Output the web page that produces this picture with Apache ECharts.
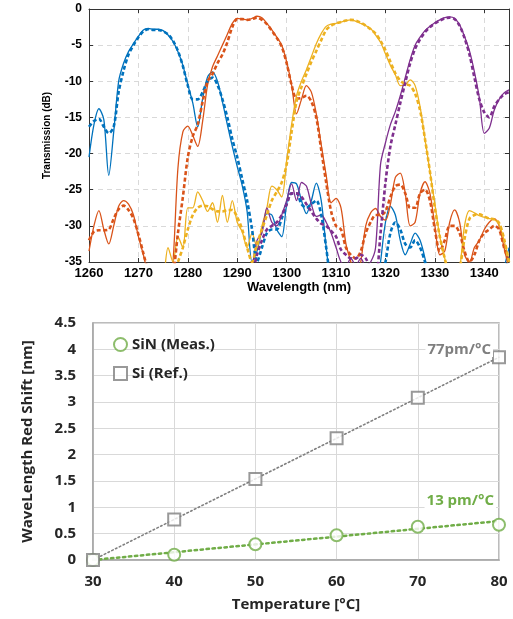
<!DOCTYPE html>
<html>
<head>
<meta charset="utf-8">
<script src="https://cdn.jsdelivr.net/npm/echarts@6/dist/echarts.min.js"></script>
<style>
  html, body { margin: 0; padding: 0; background: #fff; }
  #chart { width: 513px; height: 619px; }
</style>
</head>
<body>
<div id="chart"></div>
<script>
// ---- Transmission spectra (dB) sampled every 1 nm ----
const wavelengths = [
  1260, 1261, 1262, 1263, 1264, 1265, 1266, 1267, 1268, 1269,
  1270, 1271, 1272, 1273, 1274, 1275, 1276, 1277, 1278, 1279,
  1280, 1281, 1282, 1283, 1284, 1285, 1286, 1287, 1288, 1289,
  1290, 1291, 1292, 1293, 1294, 1295, 1296, 1297, 1298, 1299,
  1300, 1301, 1302, 1303, 1304, 1305, 1306, 1307, 1308, 1309,
  1310, 1311, 1312, 1313, 1314, 1315, 1316, 1317, 1318, 1319,
  1320, 1321, 1322, 1323, 1324, 1325, 1326, 1327, 1328, 1329,
  1330, 1331, 1332, 1333, 1334, 1335, 1336, 1337, 1338, 1339,
  1340, 1341, 1342, 1343, 1344, 1345
];

// Channel 1 (blue)
const ch1Measured = [
  -20.5, -16, -13.8, -15.3, -23, -17, -10, -7.5, -5.9, -4.8,
  -3.8, -2.9, -2.7, -2.8, -2.8, -3.0, -3.6, -4.5, -5.9, -7.8,
  -10.5, -13, -16.3, -12.4, -9.4, -8.7, -10, -12.8, -16, -19,
  -21.8, -24.4, -28, -35, -33.5, -30.5, -28.3, -28.5, -30.5, -31.5,
  -27, -24, -24.2, -26.5, -28.3, -26.5, -24.1, -26.5, -33, -38,
  -40, -40, -40, -40, -40, -40, -40, -40, -40, -35,
  -29.5, -27.3, -28.5, -32, -34, -32.5, -31, -32, -34.5, -38,
  -40, -40, -40, -40, -40, -40, -40, -40, -40, -40,
  -40, -40, -40, -40, -36, -33
];
const ch1Simulated = [
  -16.3, -15.5, -15.2, -16.3, -17.2, -16.3, -11.5, -8.5, -6.3, -5,
  -3.9, -3.1, -2.8, -2.9, -2.9, -3.1, -3.5, -4.4, -5.8, -7.9,
  -10.6, -12.5, -12.5, -11.5, -10, -9.5, -10.5, -12.5, -15, -18,
  -20.5, -23.5, -26.5, -30.5, -35, -33, -31, -30.5, -30.5, -29,
  -27, -25.5, -25.5, -27, -27.5, -27, -26.5, -28.5, -33, -38,
  -40, -40, -40, -40, -40, -40, -40, -40, -40, -38,
  -35, -31, -29.5, -30.5, -32.5, -33, -32, -33, -35, -38,
  -40, -40, -40, -40, -40, -40, -40, -40, -40, -40,
  -40, -40, -40, -40, -37, -34
];

// Channel 2 (orange)
const ch2Measured = [
  -33.5, -30, -27.9, -30.5, -32.5, -30, -27.3, -26.5, -27, -28.5,
  -31.5, -34, -37, -40, -40, -40, -40, -35, -22, -17,
  -16.2, -17.5, -19, -15.5, -10.5, -8, -6.5, -5, -3.5, -2,
  -1.3, -1.4, -1.5, -1.3, -1.0, -1.2, -2, -2.9, -3.9, -5,
  -7.3, -10.5, -14.5, -12.5, -10.6, -11.5, -14.5, -18.8, -23, -26.8,
  -26.2, -27.5, -32.5, -35, -38, -35, -30, -28.2, -27.6, -28.7,
  -29.2, -27, -23.3, -22.7, -25.5, -30, -29.5, -25.5, -23.9, -25.5,
  -30, -34, -33.5, -29.5, -27.8, -29.5, -34, -35, -33, -32,
  -30.5, -29.5, -29, -30, -33, -36
];
const ch2Simulated = [
  -32, -30.8, -30.6, -30.6, -30.5, -29, -27.7, -27.2, -27.8, -29,
  -31.2, -33.8, -36.5, -40, -40, -40, -40, -37, -31, -26,
  -20.5, -17.6, -16, -12.8, -10, -9, -7.5, -6.3, -4.6, -2.5,
  -1.4, -1.4, -1.5, -1.4, -1.2, -1.5, -2.1, -3, -4, -5.2,
  -7.5, -10.5, -12.4, -12.3, -12, -12.8, -15, -19.5, -24, -28,
  -30, -30.5, -33, -34, -34.5, -33.5, -31, -29.5, -28.5, -28.5,
  -28, -26, -24.5, -24.3, -25.5, -27.5, -27.5, -25.5, -25, -26.5,
  -30.5, -33.5, -32, -30, -30, -31, -33.5, -35, -34, -32,
  -31, -30.5, -30, -30.5, -33, -35
];

// Channel 3 (yellow)
const ch3Measured = [
  -40, -40, -40, -40, -40, -40, -40, -40, -40, -40,
  -40, -40, -40, -40, -40, -38, -33, -35, -31.5, -33,
  -27.5, -27.5, -25.3, -26.5, -28, -26.8, -29.5, -25.8, -29.5, -26.5,
  -29.5, -30.8, -33, -31, -33, -30, -27.5, -24.5, -25, -26,
  -21, -16, -12, -10, -8.4, -6.6, -4.8, -3.4, -2.4, -2.1,
  -2.0, -1.8, -1.6, -1.5, -1.7, -2.0, -2.3, -2.7, -3.6, -4.6,
  -6.2, -7.8, -9.1, -10.6, -10.5, -9.8, -10.6, -13.5, -18, -22.5,
  -27, -31.5, -34.5, -37, -38, -36, -30, -27.9, -28.2, -28.6,
  -28.8, -29, -29.1, -29.8, -32, -35
];
const ch3Simulated = [
  -40, -40, -40, -40, -40, -40, -40, -40, -40, -40,
  -40, -40, -40, -40, -40, -40, -40, -37, -35, -33,
  -30.5, -28.5, -27.5, -27.2, -27.3, -27.7, -28, -28, -27.8, -27.8,
  -28.8, -30.5, -33, -35, -32.5, -30.5, -28.5, -26.5, -25.3, -24,
  -21.5, -17, -12.8, -10.8, -9, -7.3, -5.8, -4.3, -2.9, -2.3,
  -2.0, -1.8, -1.6, -1.5, -1.6, -1.9, -2.3, -2.8, -3.4, -4.4,
  -5.7, -7.3, -8.9, -9.9, -10.4, -10.6, -11.7, -14, -18, -22.5,
  -27.5, -31.5, -34.5, -37, -38, -36, -31.8, -29, -28.5, -28.4,
  -28.7, -29, -29.1, -29.6, -31.8, -35
];

// Channel 4 (purple)
const ch4Measured = [
  -40, -40, -40, -40, -40, -40, -40, -40, -40, -40,
  -40, -40, -40, -40, -40, -40, -40, -40, -40, -40,
  -40, -40, -40, -40, -40, -40, -40, -40, -40, -40,
  -40, -40, -40, -36, -32, -31, -27.5, -29.5, -30, -28.5,
  -26.5, -24.2, -26.5, -24, -24.5, -27, -28.7, -28.5, -29.5, -31,
  -33, -35, -35.5, -34.5, -35.5, -34.5, -35.5, -35, -33, -21.5,
  -18.5, -16, -14.2, -12, -9.5, -7, -5, -3.9, -3.0, -2.4,
  -1.9, -1.5, -1.2, -1.1, -1.3, -2.2, -3.8, -5.8, -8.7, -12.3,
  -17.2, -16.5, -14, -12.5, -11.6, -11.2
];
const ch4Simulated = [
  -40, -40, -40, -40, -40, -40, -40, -40, -40, -40,
  -40, -40, -40, -40, -40, -40, -40, -40, -40, -40,
  -40, -40, -40, -40, -40, -40, -40, -40, -40, -40,
  -40, -40, -40, -37, -34, -32, -30.5, -30, -29.5, -28.5,
  -27, -25.5, -25.5, -26, -27, -28, -29, -29.7, -30, -30.7,
  -31.5, -33.3, -34, -34.5, -34.5, -34, -34.5, -36, -37, -31,
  -24, -19, -16, -13, -10.2, -7.5, -5.5, -4.2, -3.2, -2.5,
  -2, -1.6, -1.3, -1.2, -1.4, -2.3, -4, -6.3, -9.5, -12.5,
  -14.3, -15, -13.5, -12.5, -11.8, -11.5
];

// ---- Thermal red shift (nm) ----
const temperatures = [30, 40, 50, 60, 70, 80];
const sinShift = [0, 0.1, 0.3, 0.47, 0.63, 0.67];
const siShift = [0, 0.77, 1.54, 2.31, 3.08, 3.85];
const trendTemps = [30, 80];
const sinTrend = [0, 0.74];
const siTrend = [0, 3.85];
const slopeTexts = ['77pm/°C', '13 pm/°C'];

const pairs = (xs, ys) => xs.map((x, i) => [x, ys[i]]);

const C = { blue: '#0072BD', orange: '#D95319', yellow: '#EDB120', purple: '#7E2F8E' };
const GREEN = '#70AD47';
const GREY = '#7F7F7F';

function spectrum(values, color, dashed) {
  return {
    type: 'line',
    xAxisIndex: 0,
    yAxisIndex: 0,
    data: pairs(wavelengths, values),
    symbol: 'none',
    smooth: 0.3,
    clip: true,
    z: dashed ? 3 : 2,
    lineStyle: dashed
      ? { color: color, width: 2.6, type: [4, 2.5] }
      : { color: color, width: 1.3 }
  };
}

const topFont = 'Liberation Sans, Arial, sans-serif';
const botFont = 'Open Sans, sans-serif';
const frame = { color: '#333', width: 1 };
const boldTop = { fontFamily: topFont, fontWeight: 'bold', color: '#000' };
const boldBot = { fontFamily: botFont, fontWeight: 'bold', color: '#262626' };

const chart = echarts.init(document.getElementById('chart'), null, { renderer: 'canvas' });

chart.setOption({
  animation: false,
  backgroundColor: '#fff',
  grid: [
    { left: 89, top: 9, width: 420, height: 253 },
    { left: 93, top: 323, width: 406, height: 237, show: true,
      borderColor: '#a6a6a6', borderWidth: 1.5, backgroundColor: 'transparent' }
  ],
  xAxis: [
    {
      gridIndex: 0, type: 'value', min: 1260, max: 1345, interval: 10, position: 'bottom',
      axisLine: { show: true, onZero: false, lineStyle: frame },
      axisTick: { show: true, inside: true, length: 4, lineStyle: frame },
      axisLabel: { ...boldTop, fontSize: 13, margin: 5, showMaxLabel: false,
        formatter: v => String(v) },
      splitLine: { show: true, lineStyle: { color: '#d9d9d9', width: 1, type: [5, 4] } },
      name: 'Wavelength (nm)', nameLocation: 'middle', nameGap: 18,
      nameTextStyle: { ...boldTop, fontSize: 13 }
    },
    {
      gridIndex: 0, type: 'value', min: 1260, max: 1345, interval: 10, position: 'top',
      axisLine: { show: true, onZero: false, lineStyle: frame },
      axisTick: { show: true, inside: true, length: 4, lineStyle: frame },
      axisLabel: { show: false }, splitLine: { show: false }
    },
    {
      gridIndex: 1, type: 'value', min: 30, max: 80, interval: 10,
      axisLine: { show: true, onZero: false, lineStyle: { color: '#a6a6a6', width: 1.5 } },
      axisTick: { show: false },
      axisLabel: { ...boldBot, fontSize: 15, margin: 14 },
      splitLine: { show: true, lineStyle: { color: '#d9d9d9', width: 1 } },
      name: 'Temperature [°C]', nameLocation: 'middle', nameGap: 37,
      nameTextStyle: { ...boldBot, fontSize: 15 }
    }
  ],
  yAxis: [
    {
      gridIndex: 0, type: 'value', min: -35, max: 0, interval: 5, position: 'left',
      axisLine: { show: true, onZero: false, lineStyle: frame },
      axisTick: { show: true, inside: true, length: 4, lineStyle: frame },
      axisLabel: { ...boldTop, fontSize: 12, margin: 7 },
      splitLine: { show: true, lineStyle: { color: '#d9d9d9', width: 1, type: [5, 4] } },
      name: 'Transmission (dB)', nameLocation: 'middle', nameGap: 37,
      nameTextStyle: { ...boldTop, fontSize: 10 }
    },
    {
      gridIndex: 0, type: 'value', min: -35, max: 0, interval: 5, position: 'right',
      axisLine: { show: true, onZero: false, lineStyle: frame },
      axisTick: { show: true, inside: true, length: 4, lineStyle: frame },
      axisLabel: { show: false }, splitLine: { show: false }
    },
    {
      gridIndex: 1, type: 'value', min: 0, max: 4.5, interval: 0.5,
      axisLine: { show: true, onZero: false, lineStyle: { color: '#a6a6a6', width: 1.5 } },
      axisTick: { show: false },
      axisLabel: { ...boldBot, fontSize: 15, margin: 17 },
      splitLine: { show: true, lineStyle: { color: '#d9d9d9', width: 1 } },
      name: 'WaveLength Red Shift [nm]', nameLocation: 'middle', nameGap: 58,
      nameTextStyle: { ...boldBot, fontSize: 15 }
    }
  ],
  legend: {
    orient: 'vertical', left: 108, top: 332,
    itemWidth: 13, itemHeight: 13, itemGap: 14,
    textStyle: { ...boldBot, fontSize: 15 },
    data: [
      { name: 'SiN (Meas.)', icon: 'emptyCircle' },
      { name: 'Si (Ref.)', icon: 'emptyRect' }
    ]
  },
  graphic: [
    { type: 'text', right: 20, top: 342, z: 10,
      style: { text: slopeTexts[0], font: 'bold 15px "Open Sans", sans-serif', fill: GREY,
        backgroundColor: '#fff', padding: [0, 2] } },
    { type: 'text', right: 17, top: 493, z: 10,
      style: { text: slopeTexts[1], font: 'bold 15px "Open Sans", sans-serif', fill: GREEN,
        backgroundColor: '#fff', padding: [0, 2] } }
  ],
  series: [
    spectrum(ch1Measured, C.blue, false),
    spectrum(ch1Simulated, C.blue, true),
    spectrum(ch2Measured, C.orange, false),
    spectrum(ch2Simulated, C.orange, true),
    spectrum(ch3Measured, C.yellow, false),
    spectrum(ch3Simulated, C.yellow, true),
    spectrum(ch4Measured, C.purple, false),
    spectrum(ch4Simulated, C.purple, true),
    {
      type: 'line', xAxisIndex: 2, yAxisIndex: 2, symbol: 'none',
      data: pairs(trendTemps, sinTrend),
      lineStyle: { color: GREEN, width: 2.5, type: [2.5, 3.5], cap: 'round' }, z: 3
    },
    {
      type: 'line', xAxisIndex: 2, yAxisIndex: 2, symbol: 'none',
      data: pairs(trendTemps, siTrend),
      lineStyle: { color: GREY, width: 1.6, type: [1.6, 2.6], cap: 'round' }, z: 3
    },
    {
      name: 'SiN (Meas.)', type: 'scatter', xAxisIndex: 2, yAxisIndex: 2,
      data: pairs(temperatures, sinShift), symbol: 'emptyCircle', symbolSize: 12,
      itemStyle: { color: GREEN, borderWidth: 2 }, z: 4, clip: false
    },
    {
      name: 'Si (Ref.)', type: 'scatter', xAxisIndex: 2, yAxisIndex: 2,
      data: pairs(temperatures, siShift), symbol: 'emptyRect', symbolSize: 12,
      itemStyle: { color: GREY, borderWidth: 2 }, z: 5, clip: false
    }
  ]
});
</script>
</body>
</html>
